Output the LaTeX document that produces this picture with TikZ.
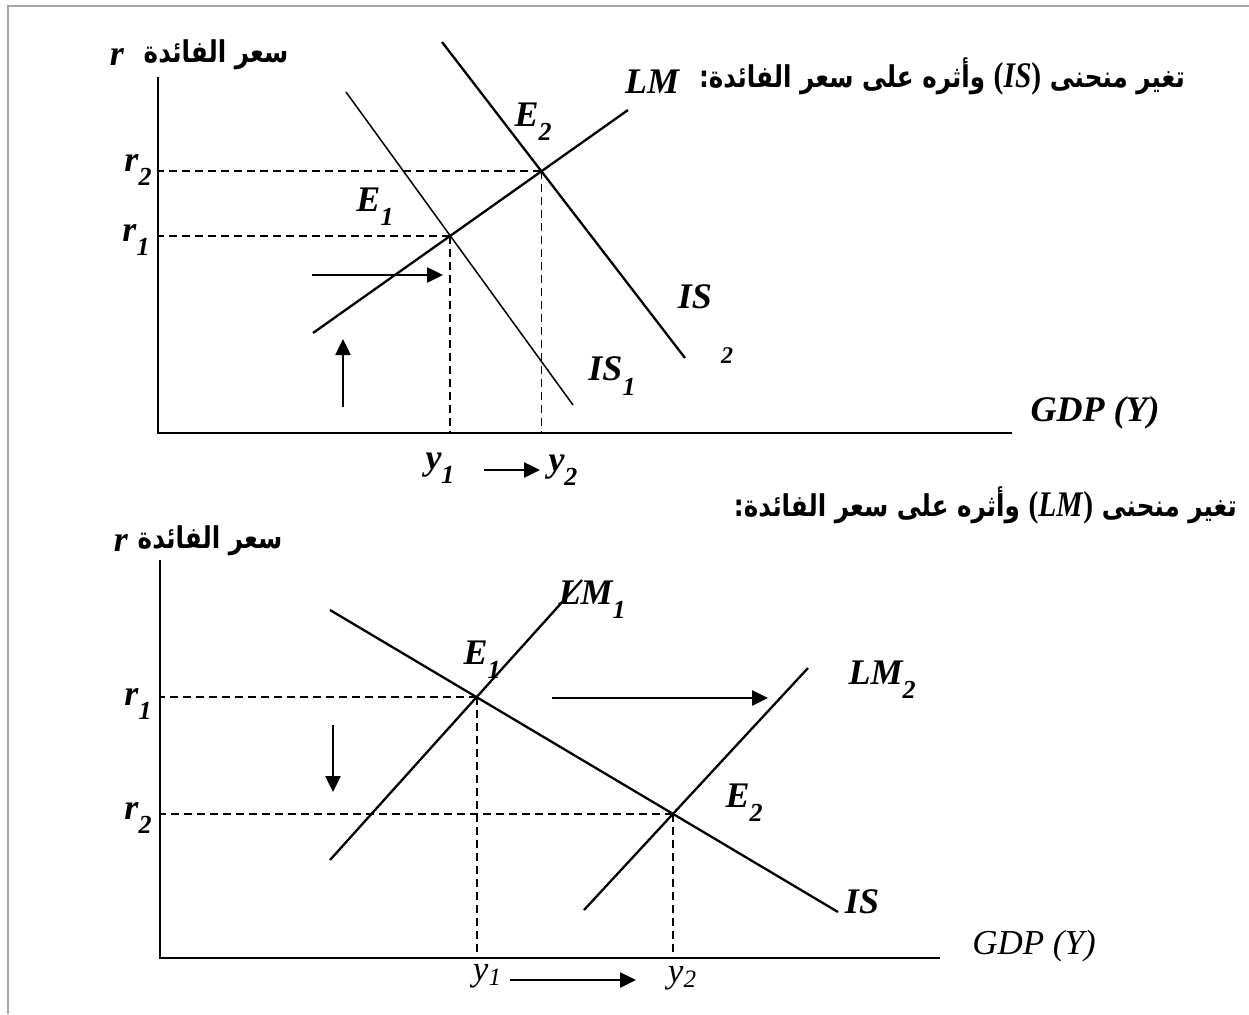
\documentclass[tikz,border=0pt]{standalone}
\usepackage{fontspec}
\setmainfont{Liberation Serif}
\newfontfamily\arabicfont[Script=Arabic]{DejaVu Sans}
\TeXXeTstate=1
\usetikzlibrary{arrows.meta}
\newcommand\lsub[1]{\raisebox{-0.4em}{\fontsize{26}{26}\selectfont #1}}
\newcommand\psub[1]{\raisebox{-0.15em}{\fontsize{25}{25}\selectfont #1}}
\newcommand\arsq[1]{\scalebox{0.82}[1]{#1}}
\begin{document}
\begin{tikzpicture}[x=1pt,y=-1pt,
  axisline/.style={line width=2.8pt},
  curve/.style={line width=2.3pt},
  thincurve/.style={line width=1.5pt},
  guide/.style={line width=1.9pt, dash pattern=on 8pt off 5pt},
  shiftarrow/.style={line width=2.5pt, -{Triangle[length=16pt,width=15pt]}},
  lbl/.style={inner sep=0pt, font=\fontsize{36}{36}\selectfont\bfseries\itshape},
  plainlbl/.style={inner sep=0pt, font=\fontsize{35}{35}\selectfont\itshape},
  artxt/.style={inner sep=0pt, font=\fontsize{30}{30}\selectfont\arabicfont\bfseries},
  frameline/.style={draw=black!35, line width=2.2pt}]
\useasboundingbox (0,0) rectangle (1249,1014);
% frame
\coordinate (fa) at (8,1014); \coordinate (fb) at (8,6); \coordinate (fc) at (1249,6);
\draw[frameline] (fa) -- (fb) -- (fc);

% ================= top panel =================
\coordinate (O1) at (158,433);
\coordinate (Yt1) at (158,77);
\coordinate (Xe1) at (1012,433);
\draw[axisline] (Yt1) -- (O1) -- (Xe1);
\coordinate (lmA) at (313,333); \coordinate (lmB) at (628,110);
\coordinate (isA) at (346,92);  \coordinate (isB) at (573,405);
\coordinate (isC) at (442,42);  \coordinate (isD) at (685,358);
\draw[curve] (lmA) -- (lmB);
\draw[thincurve] (isA) -- (isB);
\draw[curve] (isC) -- (isD);
\coordinate (E1t) at (intersection of lmA--lmB and isA--isB);
\coordinate (E2t) at (intersection of lmA--lmB and isC--isD);
\draw[guide] (E1t) -- (E1t -| O1);
\draw[guide] (E1t) -- (E1t |- O1);
\draw[guide] (E2t) -- (E2t -| O1);
\draw[guide] (E2t) -- (E2t |- O1);
\coordinate (ha1) at (312,275); \coordinate (ha2) at (443,275);
\draw[shiftarrow] (ha1) -- (ha2);
\coordinate (va1) at (343,407); \coordinate (va2) at (343,339);
\draw[shiftarrow] (va1) -- (va2);

\node[lbl] (rT) at (117,57) {r};
\node[artxt] (arT) at (216,55) {\arsq{\beginR سعر الفائدة\endR}};
\node[lbl] (r2T) at (138,170) {r\lsub{2}};
\node[lbl] (r1T) at (136,240) {r\lsub{1}};
\node[lbl] (E2lT) at (533,122) {E\lsub{2}};
\node[lbl] (E1lT) at (375,207) {E\lsub{1}};
\node[lbl] (IS2T) at (695,297) {IS};
\node[inner sep=0pt, font=\fontsize{24}{24}\selectfont\bfseries\itshape] (IS2s) at (727,356) {2};
\node[lbl] (IS1T) at (612,376) {IS\lsub{1}};
\node[lbl] (GDPT) at (1095,413) {GDP (Y)};
\node[lbl] (y1T) at (440,468) {y\lsub{1}};
\node[lbl] (y2T) at (563,470) {y\lsub{2}};
\coordinate (ya1) at (484,470); \coordinate (ya2) at (540,470);
\draw[shiftarrow] (ya1) -- (ya2);
\node[lbl] (LMT) at (652,82) {LM};
\node[artxt, anchor=east] (titleT) at (1185,76)
  {\arsq{{\beginR وأثره على سعر الفائدة:\endR}\ {\fontsize{36}{36}\selectfont\rmfamily\bfseries(\textit{IS})}\ {\beginR تغير منحنى\endR}}};

% ================= bottom panel =================
\coordinate (O2) at (160,958);
\coordinate (Yt2) at (160,560);
\coordinate (Xe2) at (940,958);
\draw[axisline] (Yt2) -- (O2) -- (Xe2);
\coordinate (isE) at (330,610); \coordinate (isF) at (838,912);
\coordinate (lmC) at (330,860); \coordinate (lmD) at (582,580);
\coordinate (lmE) at (584,910); \coordinate (lmF) at (808,668);
\draw[curve] (isE) -- (isF);
\draw[curve] (lmC) -- (lmD);
\draw[curve] (lmE) -- (lmF);
\coordinate (E1b) at (intersection of isE--isF and lmC--lmD);
\coordinate (E2b) at (intersection of isE--isF and lmE--lmF);
\draw[guide] (E1b) -- (E1b -| O2);
\draw[guide] (E1b) -- (E1b |- O2);
\draw[guide] (E2b) -- (E2b -| O2);
\draw[guide] (E2b) -- (E2b |- O2);
\coordinate (hb1) at (552,698); \coordinate (hb2) at (768,698);
\draw[shiftarrow] (hb1) -- (hb2);
\coordinate (vb1) at (333,725); \coordinate (vb2) at (333,792);
\draw[shiftarrow] (vb1) -- (vb2);

\node[lbl] (rB) at (121,543) {r};
\node[artxt] (arB) at (210,541) {\arsq{\beginR سعر الفائدة\endR}};
\node[lbl] (r1B) at (138,704) {r\lsub{1}};
\node[lbl] (r2B) at (138,818) {r\lsub{2}};
\node[lbl] (LM1B) at (592,600) {LM\lsub{1}};
\node[lbl] (LM2B) at (882,680) {LM\lsub{2}};
\node[lbl] (E1lB) at (482,660) {E\lsub{1}};
\node[lbl] (E2lB) at (744,803) {E\lsub{2}};
\node[lbl] (ISB) at (862,902) {IS};
\node[plainlbl] (GDPB) at (1034,946) {GDP (Y)};
\node[plainlbl] (y1B) at (487,976) {y\psub{1}};
\node[plainlbl] (y2B) at (682,978) {y\psub{2}};
\coordinate (yb1) at (510,980); \coordinate (yb2) at (636,980);
\draw[shiftarrow] (yb1) -- (yb2);
\node[artxt, anchor=east] (titleB) at (1237,505)
  {\arsq{{\beginR وأثره على سعر الفائدة:\endR}\ {\fontsize{36}{36}\selectfont\rmfamily\bfseries(\textit{LM})}\ {\beginR تغير منحنى\endR}}};
\end{tikzpicture}
\end{document}
